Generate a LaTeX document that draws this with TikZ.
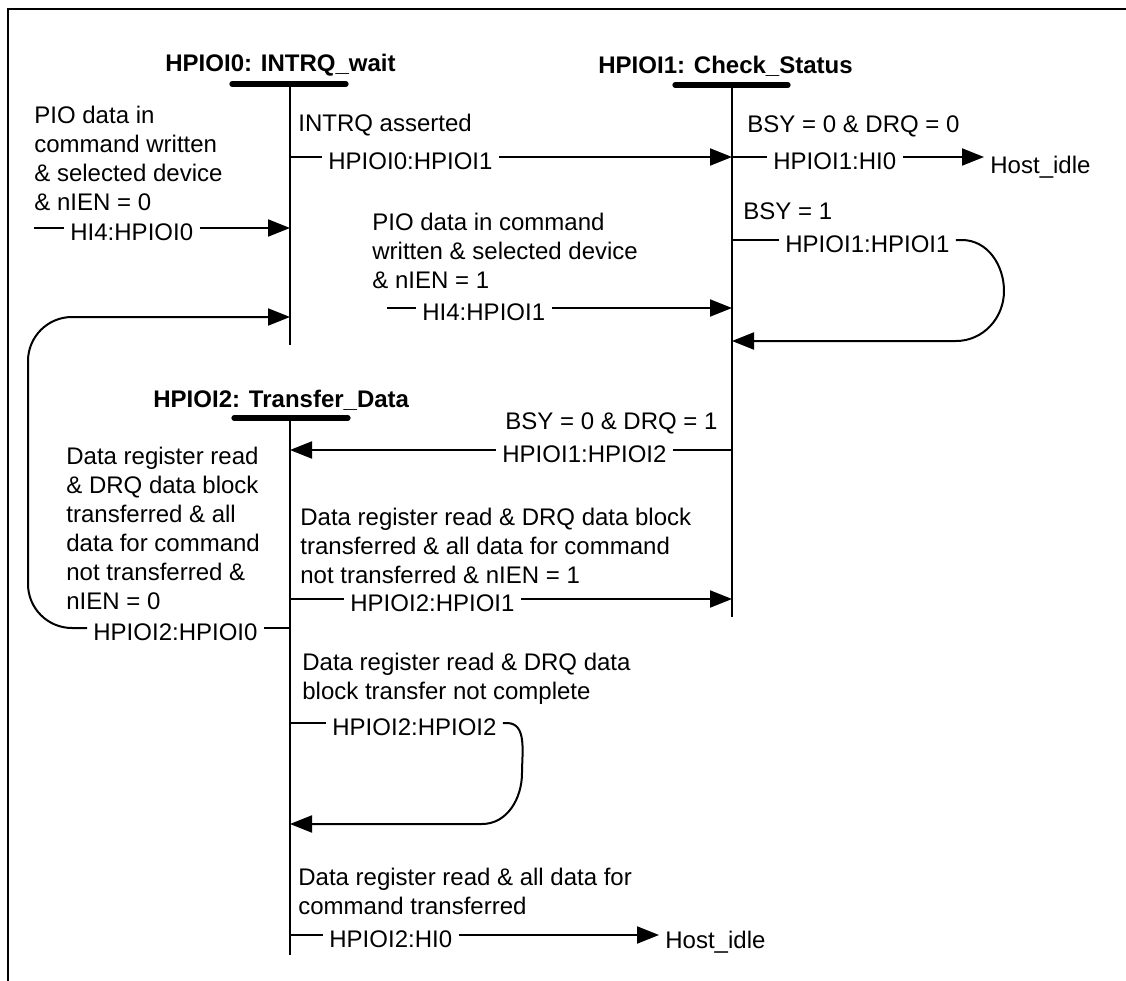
\documentclass[tikz,border=0pt]{standalone}
\usepackage{fontspec}
\setmainfont{Liberation Sans}
\usetikzlibrary{arrows.meta}

\begin{document}
\begin{tikzpicture}[x=0.5pt, y=-0.5pt,
            every node/.style={font=\fontsize{12pt}{14.5pt}\selectfont},
            state/.style={font=\fontsize{12pt}{14.5pt}\selectfont\bfseries, anchor=base west, inner sep=0pt},
            cond/.style={align=left, anchor=north west, inner sep=0pt},
            trans/.style={anchor=west, inner sep=3pt},
            target/.style={anchor=base west, inner sep=3pt},
            life/.style={line width=1pt},
            bar/.style={line width=2.6pt, line cap=round},
            link/.style={line width=1pt},
            arr/.style={link, -{Triangle[length=11pt, width=8.5pt]}}
        ]
            \useasboundingbox (0,0) rectangle (1126,981);
            \draw [line width=1pt] (8,981) -- (8,9) -- (1126,9);

            \node (s0) [state] at (165,71) {HPIOI0: INTRQ\_wait};
            \node (s1) [state] at (598,73) {HPIOI1: Check\_Status};
            \node (s2) [state] at (153,407) {HPIOI2: Transfer\_Data};
            \draw [bar] (232,84) -- (346,84);
            \draw [bar] (675,85) -- (788,85);
            \draw [bar] (234,418) -- (348,418);
            \coordinate (p0top) at (290,84);
            \coordinate (p0bot) at (290,345);
            \coordinate (p1top) at (732,85);
            \coordinate (p1bot) at (732,617);
            \coordinate (p2top) at (290,418);
            \coordinate (p2bot) at (290,955);
            \draw [life] (p0top) -- (p0bot);
            \draw [life] (p1top) -- (p1bot);
            \draw [life] (p2top) -- (p2bot);

            \coordinate (h4a) at (34,228);
            \coordinate (p0a) at (290,228);
            \node (c4a) [cond] at (34,106) {PIO data in\\command written\\\& selected device\\\& nIEN = 0};
            \node (t4a) [trans] at (64,232) {HI4:HPIOI0};
            \draw [link] (h4a) -- (t4a.west |- h4a);
            \draw [arr] (t4a.east |- h4a) -- (p0a);

            \coordinate (p2c) at (290,628);
            \coordinate (p0b) at (290,317);
            \node (c20) [cond] at (66,447) {Data register read\\\& DRQ data block\\transferred \& all\\data for command\\not transferred \&\\nIEN = 0};
            \node (t20) [trans] at (87,632) {HPIOI2:HPIOI0};
            \draw [link] (p2c) -- (t20.east |- p2c);
            \draw [arr, rounded corners=22pt] (t20.west |- p2c) -- (28,628) -- (28,317) -- (p0b);

            \coordinate (p0c) at (290,157);
            \coordinate (p1a) at (732,157);
            \node (c01) [cond] at (298,114) {INTRQ asserted};
            \node (t01) [trans] at (322,161) {HPIOI0:HPIOI1};
            \draw [link] (p0c) -- (t01.west |- p0c);
            \draw [arr] (t01.east |- p0c) -- (p1a);

            \coordinate (h4b) at (387,308);
            \coordinate (p1b) at (732,308);
            \node (c4b) [cond] at (372,213) {PIO data in command\\written \& selected device\\\& nIEN = 1};
            \node (t4b) [trans] at (416,312) {HI4:HPIOI1};
            \draw [link] (h4b) -- (t4b.west |- h4b);
            \draw [arr] (t4b.east |- h4b) -- (p1b);

            \node (c10) [cond] at (747,115) {BSY = 0 \& DRQ = 0};
            \node (t10) [trans] at (767,161) {HPIOI1:HI0};
            \node (idle1) [target] at (984,173) {Host\_idle};
            \draw [link] (p1a) -- (t10.west |- p1a);
            \draw [arr] (t10.east |- p1a) -- (idle1.west |- p1a);

            \coordinate (p1c) at (732,240);
            \coordinate (p1d) at (732,341);
            \node (c11) [cond] at (743,202) {BSY = 1};
            \node (t11) [trans] at (779,244) {HPIOI1:HPIOI1};
            \draw [link] (p1c) -- (t11.west |- p1c);
            \draw [arr] (t11.east |- p1c) -- ++(6,0) to[out=0, in=90] (1004,291) to[out=-90, in=0] (956,341) -- (p1d);

            \coordinate (p1e) at (732,450);
            \coordinate (p2a) at (290,450);
            \node (c12) [cond] at (505,412) {BSY = 0 \& DRQ = 1};
            \node (t12) [trans] at (496,454) {HPIOI1:HPIOI2};
            \draw [link] (p1e) -- (t12.east |- p1e);
            \draw [arr] (t12.west |- p1e) -- (p2a);

            \coordinate (p2b) at (290,599);
            \coordinate (p1f) at (732,599);
            \node (c21) [cond] at (300,508) {Data register read \& DRQ data block\\transferred \& all data for command\\not transferred \& nIEN = 1};
            \node (t21) [trans] at (344,603) {HPIOI2:HPIOI1};
            \draw [link] (p2b) -- (t21.west |- p2b);
            \draw [arr] (t21.east |- p2b) -- (p1f);

            \coordinate (p2d) at (290,723);
            \coordinate (p2e) at (290,824);
            \node (c22) [cond] at (302,653) {Data register read \& DRQ data\\block transfer not complete};
            \node (t22) [trans] at (326,727) {HPIOI2:HPIOI2};
            \draw [link] (p2d) -- (t22.west |- p2d);
            \draw [arr] (t22.east |- p2d) -- ++(4,0) to[out=0, in=90] (522,773) to[out=-90, in=0] (482,824) -- (p2e);

            \coordinate (p2f) at (290,935);
            \node (c2h) [cond] at (298,868) {Data register read \& all data for\\command transferred};
            \node (t2h) [trans] at (323,939) {HPIOI2:HI0};
            \node (idle2) [target] at (659,948) {Host\_idle};
            \draw [link] (p2f) -- (t2h.west |- p2f);
            \draw [arr] (t2h.east |- p2f) -- (idle2.west |- p2f);
        \end{tikzpicture}
\end{document}
